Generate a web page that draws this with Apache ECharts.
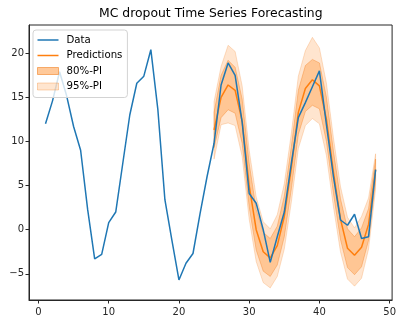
<!DOCTYPE html>
<html>
<head>
<meta charset="utf-8">
<script src="https://cdn.jsdelivr.net/npm/echarts@6/dist/echarts.min.js"></script>
<style>
  html, body { margin: 0; padding: 0; background: #fff; }
  #chart { width: 399px; height: 320px; }
</style>
</head>
<body>
<div id="chart"></div>
<script>
// Observed series, t = 1..48
const dataX = [1,2,3,4,5,6,7,8,9,10,11,12,13,14,15,16,17,18,19,20,21,22,23,24,
               25,26,27,28,29,30,31,32,33,34,35,36,37,38,39,40,41,42,43,44,45,46,47,48];
const dataY = [12.0,14.6,17.9,15.2,11.7,9.0,2.3,-3.3,-2.8,0.8,2.0,7.5,13.0,16.6,17.4,20.4,
               13.6,3.4,-1.2,-5.7,-3.8,-2.7,1.8,6.0,9.8,16.4,18.9,17.5,12.2,4.1,3.0,0.0,
               -3.7,-0.8,2.0,7.5,12.7,14.4,16.2,18.0,11.9,6.0,1.1,0.5,1.75,-1.0,-0.8,6.8];

// Forecast horizon, t = 25..48
const forecastX = [25,26,27,28,29,30,31,32,33,34,35,36,37,38,39,40,41,42,43,44,45,46,47,48];
const predY  = [11.3,15.0,16.4,15.8,12.3,5.0,0.0,-2.5,-3.2,-1.8,1.5,7.0,13.3,16.0,17.0,16.3,12.5,6.5,1.2,-2.1,-2.9,-2.0,0.6,6.8];
const lo80   = [9.3,12.7,13.6,13.2,9.8,2.6,-2.3,-4.7,-5.3,-4.0,-0.8,4.6,10.8,13.4,14.1,13.7,10.0,4.1,-1.1,-4.3,-5.1,-4.2,-1.2,5.5];
const hi80   = [13.3,17.5,19.2,18.4,14.8,7.5,2.3,-0.3,-1.0,0.4,3.8,9.4,15.8,18.6,19.3,18.9,15.0,8.9,3.5,0.1,-0.8,0.2,2.4,8.0];
const lo95   = [8.0,11.9,12.1,11.8,8.3,1.2,-3.6,-6.0,-6.6,-5.3,-2.2,3.1,9.2,11.8,12.6,12.0,8.4,2.6,-2.5,-5.6,-6.4,-5.5,-2.2,4.6];
const hi95   = [14.5,18.5,20.9,20.2,16.3,9.0,3.7,0.9,0.1,1.7,5.2,10.9,17.4,20.3,21.8,20.6,16.6,10.4,4.9,1.4,0.2,1.5,3.6,8.6];

// Axis tick values
const xTicks = [0,10,20,30,40,50];
const yTicks = [-5,0,5,10,15,20];

const BLUE = '#1f77b4';
const ORANGE = '#ff7f0e';
const AXIS = '#262626';

const minus = v => String(v).replace('-', '\u2212');

// Filled prediction interval drawn as one polygon through the cartesian scales
function band(name, lo, hi, fill, stroke) {
  return {
    type: 'custom',
    name: name,
    coordinateSystem: 'cartesian2d',
    silent: true,
    data: forecastX.map((x, i) => [x, lo[i], hi[i]]),
    encode: { x: 0, y: [1, 2] },
    itemStyle: { color: fill },
    renderItem: function (params, api) {
      if (params.dataIndex !== 0) return;
      const upper = forecastX.map((x, i) => api.coord([x, hi[i]]));
      const lower = forecastX.map((x, i) => api.coord([x, lo[i]])).reverse();
      return {
        type: 'polygon',
        shape: { points: upper.concat(lower) },
        style: { fill: fill, stroke: stroke, lineWidth: 1 }
      };
    }
  };
}

const chart = echarts.init(document.getElementById('chart'), null, { renderer: 'canvas' });

const lineIcon = 'path://M0,0H21V1.5H0Z';

chart.setOption({
  animation: false,
  backgroundColor: '#fff',
  textStyle: { fontFamily: 'DejaVu Sans' },
  title: {
    text: 'MC dropout Time Series Forecasting',
    left: 99, top: 8, padding: 0,
    textStyle: { fontFamily: 'DejaVu Sans', fontSize: 12.4, fontWeight: 'normal', color: '#000' }
  },
  legend: {
    orient: 'vertical',
    left: 33, top: 30,
    padding: [5, 5, 6, 4],
    itemWidth: 21, itemHeight: 7, itemGap: 5.5,
    borderColor: '#d3d3d3', borderWidth: 1, borderRadius: 3,
    backgroundColor: 'rgba(255,255,255,0.8)',
    selectedMode: false,
    textStyle: { fontFamily: 'DejaVu Sans', fontSize: 10.2, color: '#000', lineHeight: 10, padding: [0, 0, 0, 3] },
    data: [
      { name: 'Data', icon: lineIcon, itemStyle: { color: BLUE } },
      { name: 'Predictions', icon: lineIcon, itemStyle: { color: ORANGE } },
      { name: '80%-PI', icon: 'rect', itemStyle: { color: 'rgba(255,127,14,0.42)', borderColor: 'rgba(240,120,20,0.55)', borderWidth: 1 } },
      { name: '95%-PI', icon: 'rect', itemStyle: { color: 'rgba(255,127,14,0.2)', borderColor: 'rgba(240,120,20,0.3)', borderWidth: 1 } }
    ]
  },
  grid: {
    left: 29, right: 2, top: 25, bottom: 20,
    show: true, borderColor: AXIS, borderWidth: 1, backgroundColor: 'transparent'
  },
  xAxis: {
    type: 'value',
    min: -1.35, max: 50.35,
    splitLine: { show: false },
    axisLine: { show: true, onZero: false, lineStyle: { color: AXIS, width: 1 } },
    axisTick: { show: true, length: 3.5, customValues: xTicks, lineStyle: { color: AXIS } },
    axisLabel: {
      customValues: xTicks, color: '#262626', fontSize: 10, fontFamily: 'DejaVu Sans', margin: 7,
      formatter: minus
    }
  },
  yAxis: {
    type: 'value',
    min: -7.97, max: 23.2,
    splitLine: { show: false },
    axisLine: { show: true, onZero: false, lineStyle: { color: AXIS, width: 1 } },
    axisTick: { show: true, length: 3.5, customValues: yTicks, lineStyle: { color: AXIS } },
    axisLabel: {
      customValues: yTicks, color: '#262626', fontSize: 10, fontFamily: 'DejaVu Sans', margin: 5,
      formatter: minus
    }
  },
  series: [
    band('95%-PI', lo95, hi95, 'rgba(255,127,14,0.2)', 'rgba(240,120,20,0.22)'),
    band('80%-PI', lo80, hi80, 'rgba(255,127,14,0.3)', 'rgba(240,120,20,0.35)'),
    {
      type: 'line', name: 'Predictions',
      data: forecastX.map((x, i) => [x, predY[i]]),
      showSymbol: false, symbol: 'none',
      lineStyle: { color: ORANGE, width: 1.5 },
      itemStyle: { color: ORANGE }
    },
    {
      type: 'line', name: 'Data',
      data: dataX.map((x, i) => [x, dataY[i]]),
      showSymbol: false, symbol: 'none',
      lineStyle: { color: BLUE, width: 1.5 },
      itemStyle: { color: BLUE }
    }
  ]
});
</script>
</body>
</html>
